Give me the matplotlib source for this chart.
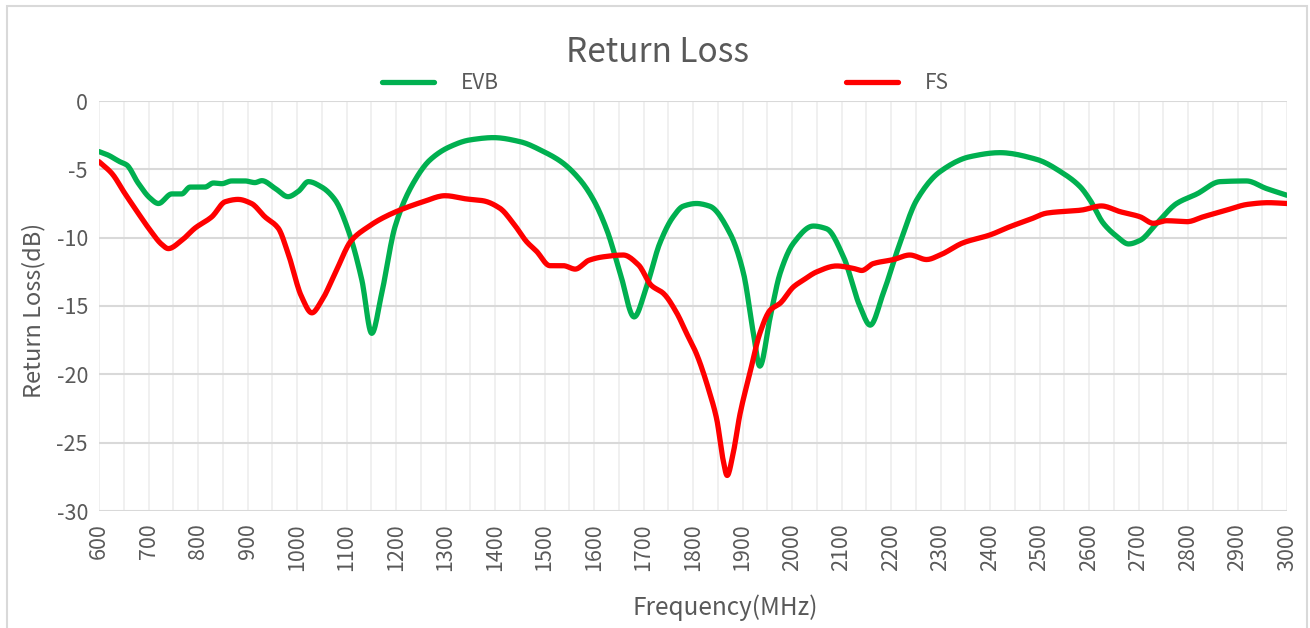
import matplotlib
matplotlib.use("Agg")
import matplotlib.pyplot as plt
from matplotlib.patches import Rectangle
from matplotlib.lines import Line2D
import numpy as np

evb_freq = [600, 618, 642, 656, 679, 703, 720, 747, 767, 784, 814, 831, 848, 868, 895, 915, 929,
            956, 982, 1003, 1023, 1050, 1077, 1103, 1131, 1151, 1171, 1198, 1235, 1269, 1309,
            1349, 1397, 1451, 1498, 1535, 1572, 1599, 1626, 1653, 1681, 1706, 1733, 1760, 1780,
            1807, 1834, 1875, 1902, 1922, 1935, 1956, 1976, 2003, 2043, 2070, 2104, 2137, 2158,
            2184, 2218, 2252, 2299, 2360, 2420, 2494, 2548, 2582, 2602, 2629, 2656, 2680, 2703,
            2737, 2777, 2818, 2865, 2918, 2958, 3000]
evb_rl = [-3.7, -3.95, -4.44, -4.68, -6.0, -7.1, -7.5, -6.8, -6.8, -6.3, -6.3, -6.0, -6.05, -5.85,
          -5.85, -5.97, -5.83, -6.4, -7.0, -6.6, -5.9, -6.3, -7.24, -9.4, -13.1, -17.0, -14.1, -9.2,
          -6.0, -4.3, -3.34, -2.85, -2.68, -2.98, -3.7, -4.48, -5.78, -7.24, -9.44, -12.6, -15.8,
          -13.6, -10.4, -8.47, -7.7, -7.5, -7.7, -9.7, -12.6, -17.0, -19.4, -15.8, -12.6, -10.4,
          -9.15, -9.35, -11.4, -15.0, -16.4, -14.1, -10.4, -7.24, -5.17, -4.07, -3.78, -4.27,
          -5.3, -6.27, -7.24, -8.95, -9.9, -10.46, -10.2, -8.95, -7.5, -6.8, -5.9, -5.85, -6.4, -6.9]

fs_freq = [600, 626, 652, 679, 703, 727, 740, 767, 794, 828, 855, 881, 908, 935, 962, 982, 1009,
           1030, 1050, 1077, 1110, 1144, 1171, 1208, 1255, 1299, 1343, 1376, 1410, 1437, 1464,
           1484, 1511, 1538, 1562, 1590, 1619, 1659, 1690, 1716, 1740, 1767, 1787, 1807, 1834,
           1848, 1861, 1869, 1881, 1895, 1915, 1935, 1956, 1976, 2003, 2023, 2050, 2090, 2124,
           2141, 2164, 2205, 2238, 2272, 2299, 2346, 2400, 2440, 2481, 2515, 2585, 2625, 2663,
           2703, 2730, 2757, 2798, 2831, 2878, 2921, 2962, 3000]
fs_rl = [-4.44, -5.3, -6.75, -8.2, -9.44, -10.5, -10.8, -10.2, -9.3, -8.47, -7.37, -7.2, -7.5,
         -8.47, -9.3, -11.15, -14.3, -15.5, -14.6, -12.6, -10.2, -9.2, -8.6, -7.98, -7.37, -6.93,
         -7.17, -7.3, -7.85, -8.95, -10.3, -11.0, -12.05, -12.05, -12.3, -11.65, -11.4, -11.27,
         -12.0, -13.5, -14.07, -15.5, -17.0, -18.5, -21.4, -23.3, -26.3, -27.4, -25.8, -22.9,
         -19.9, -17.0, -15.3, -14.8, -13.6, -13.1, -12.5, -12.07, -12.25, -12.4, -11.9, -11.6,
         -11.27, -11.6, -11.27, -10.37, -9.8, -9.2, -8.66, -8.2, -7.98, -7.68, -8.1, -8.47,
         -8.95, -8.76, -8.83, -8.47, -7.98, -7.56, -7.44, -7.5]

series_names = ["EVB", "FS"]
series_colors = ["#00B050", "#FF0000"]
x_ticks = list(range(600, 3001, 100))
y_ticks = [0, -5, -10, -15, -20, -25, -30]

plt.rcParams['font.family'] = ['Noto Sans CJK SC', 'DejaVu Sans']
txt = "#595959"

W, H = 1310, 628
fig = plt.figure(figsize=(W / 100, H / 100), dpi=100)
ax = fig.add_axes([99 / W, 1 - 511 / H, (1287 - 99) / W, (511 - 101) / H])

def smooth(xs, ys):
    xs = np.asarray(xs, float); ys = np.asarray(ys, float)
    n = len(xs)
    h = np.diff(xs); d = np.diff(ys) / h
    m = np.zeros(n)
    for i in range(1, n - 1):
        if d[i - 1] * d[i] <= 0:
            m[i] = 0
        else:
            w1 = 2 * h[i] + h[i - 1]; w2 = h[i] + 2 * h[i - 1]
            m[i] = (w1 + w2) / (w1 / d[i - 1] + w2 / d[i])
    m[0] = d[0]; m[-1] = d[-1]
    xo, yo = [], []
    for i in range(n - 1):
        t = np.linspace(0, 1, 12, endpoint=False)
        h00 = 2 * t**3 - 3 * t**2 + 1; h10 = t**3 - 2 * t**2 + t
        h01 = -2 * t**3 + 3 * t**2; h11 = t**3 - t**2
        yo.extend(h00 * ys[i] + h10 * h[i] * m[i] + h01 * ys[i + 1] + h11 * h[i] * m[i + 1])
        xo.extend(xs[i] + t * h[i])
    xo.append(xs[-1]); yo.append(ys[-1])
    return np.array(xo), np.array(yo)

for xs, ys, name, c in [(evb_freq, evb_rl, series_names[0], series_colors[0]),
                        (fs_freq, fs_rl, series_names[1], series_colors[1])]:
    sx, sy = smooth(xs, ys)
    ax.plot(sx, sy, color=c, lw=3.8, solid_capstyle='round', label=name, zorder=3)

ax.set_xlim(600, 3000)
ax.set_ylim(-30, 0)
ax.set_xticks(x_ticks)
ax.set_xticklabels([str(v) for v in x_ticks], rotation=90, color=txt, fontsize=15.5)
ax.set_xticks(list(range(650, 3000, 100)), minor=True)
ax.set_yticks(y_ticks)
ax.set_yticklabels([str(v) for v in y_ticks], color=txt, fontsize=15.5)
ax.tick_params(axis='both', which='both', length=0)
ax.tick_params(axis='x', pad=9)
ax.tick_params(axis='y', pad=8)
ax.grid(True, axis='x', which='both', color='#EDEDED', lw=1.2, zorder=0)
ax.grid(True, axis='y', which='major', color='#D9D9D9', lw=1.5, zorder=1)
for s in ax.spines.values():
    s.set_visible(False)

ax.set_xlabel("Frequency(MHz)", color=txt, fontsize=17.5)
ax.xaxis.set_label_coords((725 - 99) / (1287 - 99), -(594 - 511) / (511 - 101))
ax.set_ylabel("Return Loss(dB)", color=txt, fontsize=17)
ax.yaxis.set_label_coords(-(99 - 45) / (1287 - 99), 0.49)

fig.text(658 / W, 1 - 52 / H, "Return Loss", ha='center', va='center', color=txt, fontsize=24)

for name, c, x0 in [(series_names[0], series_colors[0], 382), (series_names[1], series_colors[1], 846)]:
    h = Line2D([], [], color=c, lw=3.8, solid_capstyle='round')
    fig.legend([h], [name], loc='center left', bbox_to_anchor=(x0 / W, 1 - 83 / H),
               frameon=False, fontsize=15, handlelength=2.5, handletextpad=1.3,
               borderpad=0, borderaxespad=0, labelcolor=txt)

fig.patches.append(Rectangle((7 / W, -0.01), (1307 - 7) / W, 1 - 6 / H + 0.01,
                             transform=fig.transFigure, fill=False, edgecolor='#D9D9D9', lw=1.5))

fig.savefig("out.png", dpi=100, facecolor='white')
